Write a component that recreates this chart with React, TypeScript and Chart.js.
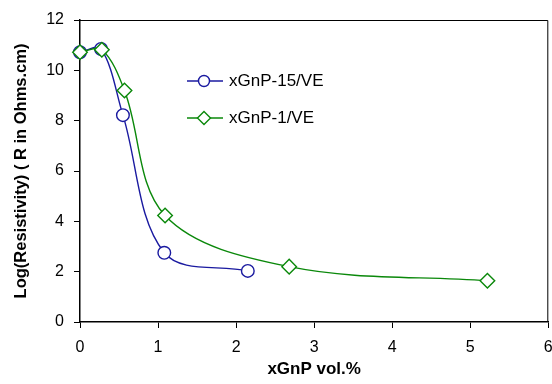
import React, { useEffect, useRef } from 'react';
import { Chart, registerables } from 'chart.js';

Chart.register(...registerables);

const seriesNames = ['xGnP-15/VE', 'xGnP-1/VE'];
const x15 = [0, 0.27, 0.55, 1.08, 2.15];
const y15 = [10.72, 10.85, 8.22, 2.75, 2.03];
const x1 = [0, 0.28, 0.57, 1.09, 2.68, 5.22];
const y1 = [10.72, 10.82, 9.2, 4.23, 2.2, 1.64];
const xRange = [0, 6];
const yRange = [0, 12];
const xStep = 1;
const yStep = 2;
const xTitle = 'xGnP vol.%';
const yTitle = 'Log(Resistivity) ( R in Ohms.cm)';

const BLUE = '#1a1aa0';
const GREEN = '#0a880a';
const FONT = 'Liberation Sans, Arial, sans-serif';

const framePlugin = {
  id: 'frame',
  afterDraw(chart: any) {
    const { ctx, chartArea: a } = chart;
    ctx.save();
    ctx.strokeStyle = '#000';
    ctx.lineWidth = 1;
    ctx.beginPath();
    ctx.moveTo(a.left, a.top + 0.5);
    ctx.lineTo(a.right - 0.5, a.top + 0.5);
    ctx.lineTo(a.right - 0.5, a.bottom);
    ctx.stroke();
    ctx.restore();
  },
};

const legendPlugin = {
  id: 'customLegend',
  afterDraw(chart: any) {
    const { ctx, chartArea: a } = chart;
    const items = [
      { name: seriesNames[0], color: BLUE, style: 'circle', dy: 61 },
      { name: seriesNames[1], color: GREEN, style: 'diamond', dy: 98 },
    ];
    items.forEach((it) => {
      const y = a.top + it.dy;
      const x0 = a.left + 107;
      const x1l = a.left + 143;
      const cx = a.left + 124;
      ctx.save();
      ctx.strokeStyle = it.color;
      ctx.lineWidth = 1.4;
      ctx.beginPath();
      ctx.moveTo(x0, y);
      ctx.lineTo(x1l, y);
      ctx.stroke();
      ctx.fillStyle = '#fff';
      ctx.beginPath();
      if (it.style === 'circle') {
        ctx.arc(cx, y, 5.5, 0, Math.PI * 2);
      } else {
        ctx.moveTo(cx, y - 6.5);
        ctx.lineTo(cx + 6.5, y);
        ctx.lineTo(cx, y + 6.5);
        ctx.lineTo(cx - 6.5, y);
        ctx.closePath();
      }
      ctx.fill();
      ctx.stroke();
      ctx.fillStyle = '#000';
      ctx.font = `17px ${FONT}`;
      ctx.textBaseline = 'middle';
      ctx.textAlign = 'left';
      ctx.fillText(it.name, a.left + 149, y);
      ctx.restore();
    });
  },
};

export default function App() {
  const ref = useRef<HTMLCanvasElement>(null);
  useEffect(() => {
    if (!ref.current) return;
    const chart = new Chart(ref.current, {
      type: 'line',
      data: {
        datasets: [
          {
            label: seriesNames[0],
            data: x15.map((x, i) => ({ x, y: y15[i] })),
            borderColor: BLUE,
            backgroundColor: '#fff',
            borderWidth: 1.4,
            pointStyle: 'circle',
            pointRadius: 6.3,
            pointBorderWidth: 1.4,
            pointBackgroundColor: '#fff',
            pointBorderColor: BLUE,
            tension: 0.35,
            clip: false,
            order: 2,
          } as any,
          {
            label: seriesNames[1],
            data: x1.map((x, i) => ({ x, y: y1[i] })),
            borderColor: GREEN,
            backgroundColor: '#fff',
            borderWidth: 1.4,
            pointStyle: 'rectRot',
            pointRadius: 7.3,
            pointBorderWidth: 1.4,
            pointBackgroundColor: '#fff',
            pointBorderColor: GREEN,
            tension: 0.35,
            clip: false,
            order: 1,
          } as any,
        ],
      },
      options: {
        animation: false,
        responsive: false,
        layout: { padding: { top: 20, right: 0, left: 0, bottom: 0 } },
        plugins: { legend: { display: false }, tooltip: { enabled: false } },
        scales: {
          x: {
            type: 'linear',
            min: xRange[0],
            max: xRange[1],
            ticks: { stepSize: xStep, color: '#000', font: { family: FONT, size: 16 }, padding: 10, maxRotation: 0 },
            grid: { drawOnChartArea: false, drawTicks: true, tickLength: 6, color: '#000', lineWidth: 1 },
            border: { display: true, color: '#000', width: 1.5 },
            title: { display: true, text: xTitle, color: '#000', font: { family: FONT, size: 17, weight: 'bold' }, padding: { top: 0, bottom: 4 } },
            afterFit: (s: any) => { s.height = 62; s.paddingLeft = 0; s.paddingRight = 0; },
          },
          y: {
            type: 'linear',
            min: yRange[0],
            max: yRange[1],
            ticks: { stepSize: yStep, color: '#000', font: { family: FONT, size: 16 }, padding: 10 },
            grid: { drawOnChartArea: false, drawTicks: true, tickLength: 6, color: '#000', lineWidth: 1 },
            border: { display: true, color: '#000', width: 1.5 },
            title: { display: true, text: yTitle, color: '#000', font: { family: FONT, size: 16.5, weight: 'bold' }, padding: { top: 12, bottom: 0 } },
            afterFit: (s: any) => { s.width = 80; s.paddingTop = 0; s.paddingBottom = 0; },
          },
        },
      },
      plugins: [framePlugin, legendPlugin],
    });
    return () => chart.destroy();
  }, []);
  return (
    <div style={{ position: 'fixed', left: 0, top: 0, width: 552, height: 384, background: '#fff', overflow: 'hidden' }}>
      <canvas ref={ref} width={557} height={384} style={{ display: 'block', width: 557, height: 384 }} />
    </div>
  );
}
